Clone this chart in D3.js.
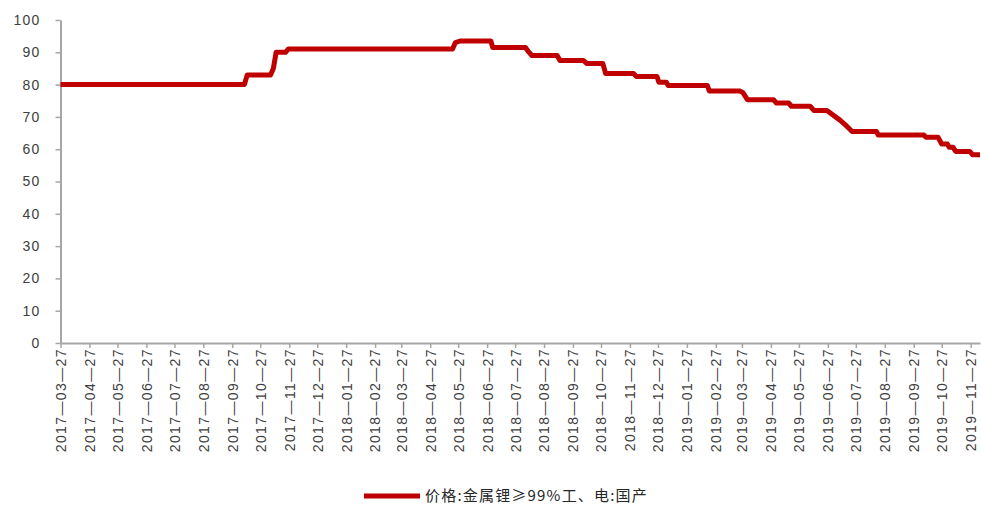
<!DOCTYPE html>
<html>
<head>
<meta charset="utf-8">
<script src="https://cdn.jsdelivr.net/npm/d3@7"></script>
<style>
  html, body { margin: 0; padding: 0; background: #fff; }
  svg { display: block; }
</style>
</head>
<body>
<svg id="chart" width="981" height="506"></svg>
<script>
const dates = [
  "2017-03-27","2017-10-10","2017-10-13","2017-11-07","2017-11-10","2017-11-13","2017-11-23","2017-11-26",
  "2018-05-21","2018-05-24","2018-05-29","2018-07-01","2018-07-03","2018-08-07","2018-08-10","2018-08-14",
  "2018-09-10","2018-09-13","2018-10-08","2018-10-12","2018-10-29","2018-11-01","2018-12-01","2018-12-04",
  "2018-12-26","2018-12-28","2019-01-05","2019-01-07","2019-02-18","2019-02-20","2019-03-25","2019-03-28",
  "2019-04-02","2019-04-30","2019-05-03","2019-05-16","2019-05-19","2019-06-08","2019-06-12","2019-06-26",
  "2019-07-10","2019-07-17","2019-07-23","2019-08-18","2019-08-20","2019-10-08","2019-10-10","2019-10-23",
  "2019-10-27","2019-11-02","2019-11-04","2019-11-08","2019-11-11","2019-11-26","2019-11-29","2019-12-07"
];
const values = [
  80,80,83,83,85,90,90,91,
  91,93,93.5,93.5,91.5,91.5,90.3,89,
  89,87.5,87.5,86.5,86.5,83.4,83.4,82.5,
  82.5,80.7,80.7,79.7,79.7,78,78,77.5,
  75.3,75.3,74.3,74.3,73.3,73.3,72,72,
  69,67.2,65.5,65.5,64.4,64.4,63.7,63.7,
  61.6,61.6,60.6,60.6,59.3,59.3,58.3,58.3
];
const xTickLabels = [
  "2017-03-27","2017-04-27","2017-05-27","2017-06-27","2017-07-27","2017-08-27","2017-09-27","2017-10-27",
  "2017-11-27","2017-12-27","2018-01-27","2018-02-27","2018-03-27","2018-04-27","2018-05-27","2018-06-27",
  "2018-07-27","2018-08-27","2018-09-27","2018-10-27","2018-11-27","2018-12-27","2019-01-27","2019-02-27",
  "2019-03-27","2019-04-27","2019-05-27","2019-06-27","2019-07-27","2019-08-27","2019-09-27","2019-10-27",
  "2019-11-27"
];
const yTicks = [0,10,20,30,40,50,60,70,80,90,100];
const xDomain = ["2017-03-27","2019-12-07"];
const seriesName = "价格:金属锂≥99%工、电:国产";

const parse = d3.utcParse("%Y-%m-%d");
const data = dates.map((d, i) => ({ date: parse(d), value: values[i] }));

const svg = d3.select("#chart");
const x = d3.scaleUtc().domain(xDomain.map(parse)).range([60.5, 980]);
const y = d3.scaleLinear().domain([0, 100]).range([343, 20]);

const axisColor = "#a6a6a6";
const textColor = "#404040";
const fontFam = "'Liberation Sans', Arial, sans-serif";

// Y axis
const yAxis = svg.append("g")
  .attr("transform", "translate(60.5,0)")
  .call(d3.axisLeft(y).tickValues(yTicks).tickSize(5).tickPadding(15).tickSizeOuter(0));
yAxis.select(".domain").attr("stroke", axisColor).attr("stroke-width", 2);
yAxis.selectAll(".tick line").attr("stroke", axisColor).attr("stroke-width", 1.5);
yAxis.selectAll(".tick text")
  .attr("fill", textColor)
  .style("font-family", fontFam)
  .style("font-size", "14px")
  .style("letter-spacing", "1.2px");

// X axis
const xAxis = svg.append("g")
  .attr("transform", "translate(0,343)")
  .call(d3.axisBottom(x)
    .tickValues(xTickLabels.map(parse))
    .tickFormat((d, i) => xTickLabels[i].replace(/-/g, "—"))
    .tickSize(5).tickSizeOuter(0));
xAxis.select(".domain").attr("stroke", axisColor).attr("stroke-width", 2);
xAxis.selectAll(".tick line").attr("stroke", axisColor).attr("stroke-width", 1.5);
xAxis.selectAll(".tick text")
  .attr("fill", textColor)
  .attr("transform", "rotate(-90)")
  .attr("x", -5)
  .attr("y", 0)
  .attr("dy", "0.35em")
  .style("text-anchor", "end")
  .style("font-family", fontFam)
  .style("font-size", "14px")
  .style("letter-spacing", "1.4px");

// Line
const line = d3.line()
  .x(d => x(d.date))
  .y(d => y(d.value))
  .curve(d3.curveLinear);

svg.append("path")
  .datum(data)
  .attr("d", line)
  .attr("fill", "none")
  .attr("stroke", "#C00000")
  .attr("stroke-width", 5)
  .attr("stroke-linejoin", "round");

// Legend
const lg = svg.append("g").attr("transform", "translate(0,496)");
lg.append("line")
  .attr("x1", 364).attr("x2", 420).attr("y1", 0).attr("y2", 0)
  .attr("stroke", "#C00000").attr("stroke-width", 5);
lg.append("text")
  .attr("x", 425).attr("y", 0).attr("dy", "0.35em")
  .attr("fill", "#262626")
  .style("font-family", "'Noto Sans CJK SC', sans-serif")
  .style("font-size", "15px")
  .style("letter-spacing", "1.2px")
  .text(seriesName);
</script>
</body>
</html>
